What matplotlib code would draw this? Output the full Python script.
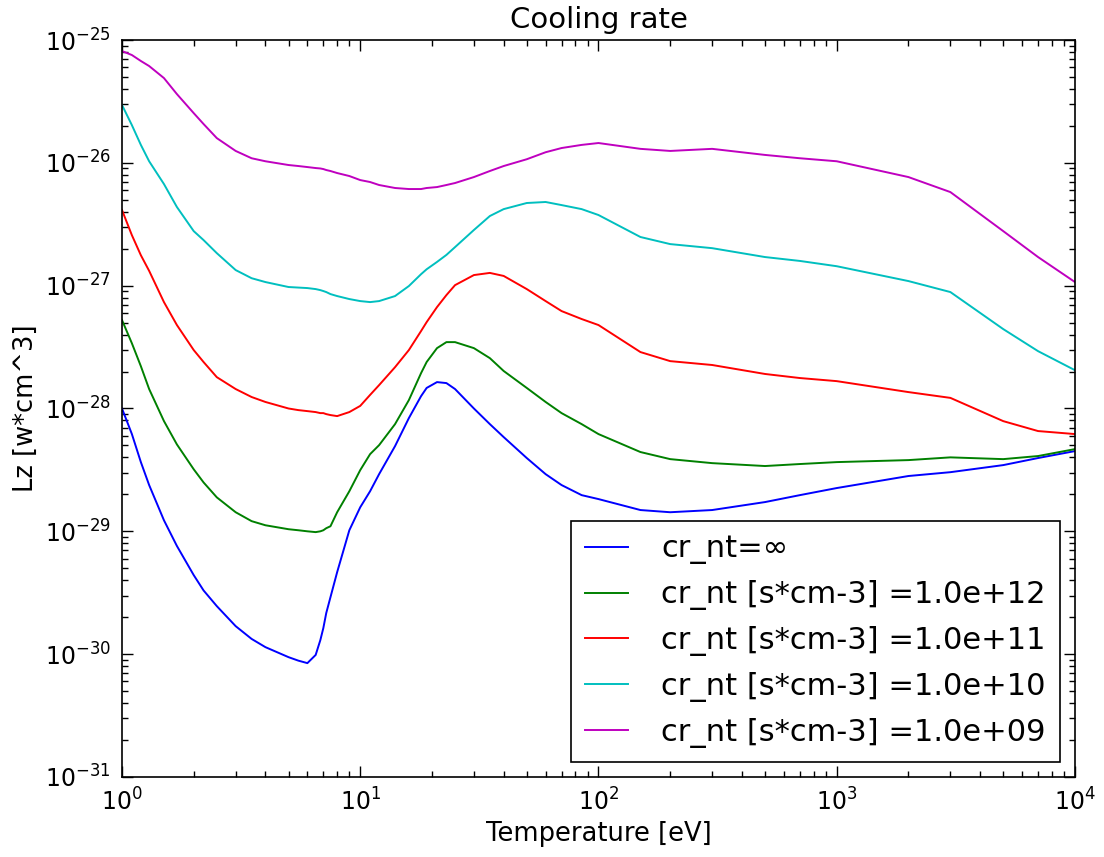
import matplotlib
matplotlib.use("Agg")
import matplotlib.pyplot as plt

plt.rcParams['font.family'] = ['DejaVu Sans']
plt.rcParams['mathtext.fontset'] = 'dejavusans'
plt.rcParams['axes.unicode_minus'] = False

# Electron temperature grid [eV]
temperature = [1, 1.1, 1.2, 1.3, 1.5, 1.7, 2, 2.2, 2.5, 3, 3.5, 4, 5, 5.5, 6, 6.5, 6.8, 7,
               7.2, 7.5, 8, 9, 10, 11, 12, 14, 16, 18, 19, 21, 23, 25, 30, 35, 40, 50, 60,
               70, 85, 100, 150, 200, 300, 500, 700, 1000, 2000, 3000, 5000, 7000, 10000]

# Radiated power coefficient Lz [W cm^3] for each residence parameter
lz_inf = [1.0e-28, 6.2e-29, 3.66e-29, 2.38e-29, 1.23e-29, 7.6e-30, 4.4e-30, 3.3e-30,
          2.46e-30, 1.69e-30, 1.33e-30, 1.14e-30, 9.45e-31, 8.85e-31, 8.45e-31, 9.85e-31,
          1.3e-30, 1.63e-30, 2.16e-30, 2.91e-30, 4.65e-30, 1.02e-29, 1.57e-29, 2.12e-29,
          2.92e-29, 4.94e-29, 8.35e-29, 1.26e-28, 1.47e-28, 1.64e-28, 1.61e-28, 1.44e-28,
          1.0e-28, 7.46e-29, 5.85e-29, 3.95e-29, 2.92e-29, 2.38e-29, 1.97e-29, 1.83e-29,
          1.49e-29, 1.43e-29, 1.49e-29, 1.73e-29, 1.97e-29, 2.25e-29, 2.82e-29, 3.03e-29,
          3.46e-29, 3.95e-29, 4.5e-29]

lz_1e12 = [5.25e-28, 3.4e-28, 2.21e-28, 1.44e-28, 7.9e-29, 5.1e-29, 3.2e-29, 2.5e-29,
           1.89e-29, 1.43e-29, 1.21e-29, 1.12e-29, 1.04e-29, 1.02e-29, 1.0e-29, 9.85e-30,
           1.0e-29, 1.02e-29, 1.06e-29, 1.1e-29, 1.43e-29, 2.12e-29, 3.15e-29, 4.25e-29,
           5.03e-29, 7.46e-29, 1.17e-28, 1.94e-28, 2.39e-28, 3.1e-28, 3.47e-28, 3.47e-28,
           3.1e-28, 2.57e-28, 2.02e-28, 1.47e-28, 1.13e-28, 9.17e-29, 7.46e-29, 6.19e-29,
           4.42e-29, 3.87e-29, 3.59e-29, 3.4e-29, 3.53e-29, 3.66e-29, 3.8e-29, 4.0e-29,
           3.87e-29, 4.1e-29, 4.67e-29]

lz_1e11 = [4.13e-27, 2.58e-27, 1.77e-27, 1.32e-27, 7.35e-28, 4.78e-28, 2.99e-28, 2.39e-28,
           1.8e-28, 1.44e-28, 1.24e-28, 1.13e-28, 1.0e-28, 9.7e-29, 9.52e-29, 9.35e-29,
           9.17e-29, 9.17e-29, 9.0e-29, 8.84e-29, 8.67e-29, 9.35e-29, 1.05e-28, 1.29e-28,
           1.55e-28, 2.17e-28, 2.99e-28, 4.27e-28, 5.05e-28, 6.69e-28, 8.38e-28, 1.01e-27,
           1.22e-27, 1.27e-27, 1.2e-27, 9.38e-28, 7.49e-28, 6.21e-28, 5.35e-28, 4.78e-28,
           2.88e-28, 2.43e-28, 2.26e-28, 1.91e-28, 1.77e-28, 1.67e-28, 1.36e-28, 1.22e-28,
           7.89e-29, 6.55e-29, 6.19e-29]

lz_1e10 = [2.96e-26, 2.03e-26, 1.4e-26, 1.03e-26, 6.72e-27, 4.37e-27, 2.78e-27, 2.35e-27,
           1.84e-27, 1.34e-27, 1.15e-27, 1.07e-27, 9.75e-28, 9.65e-28, 9.56e-28, 9.38e-28,
           9.2e-28, 9.04e-28, 8.87e-28, 8.54e-28, 8.23e-28, 7.78e-28, 7.49e-28, 7.35e-28,
           7.49e-28, 8.23e-28, 9.93e-28, 1.24e-27, 1.36e-27, 1.56e-27, 1.78e-27, 2.06e-27,
           2.84e-27, 3.69e-27, 4.2e-27, 4.71e-27, 4.8e-27, 4.53e-27, 4.2e-27, 3.76e-27,
           2.49e-27, 2.18e-27, 2.02e-27, 1.71e-27, 1.59e-27, 1.44e-27, 1.09e-27, 8.87e-28,
           4.43e-28, 2.93e-28, 2.05e-28]

lz_1e09 = [8.13e-26, 7.55e-26, 6.75e-26, 6.14e-26, 4.9e-26, 3.63e-26, 2.54e-26, 2.07e-26,
           1.59e-26, 1.25e-26, 1.09e-26, 1.03e-26, 9.6e-27, 9.42e-27, 9.24e-27, 9.07e-27,
           9.0e-27, 8.9e-27, 8.74e-27, 8.58e-27, 8.26e-27, 7.81e-27, 7.24e-27, 6.98e-27,
           6.6e-27, 6.24e-27, 6.12e-27, 6.12e-27, 6.24e-27, 6.35e-27, 6.6e-27, 6.85e-27,
           7.66e-27, 8.58e-27, 9.42e-27, 1.07e-26, 1.22e-26, 1.32e-26, 1.4e-26, 1.45e-26,
           1.3e-26, 1.25e-26, 1.3e-26, 1.16e-26, 1.09e-26, 1.03e-26, 7.66e-27, 5.78e-27,
           2.78e-27, 1.71e-27, 1.07e-27]

series = [lz_inf, lz_1e12, lz_1e11, lz_1e10, lz_1e09]
labels = ["cr_nt=\u221e",
          "cr_nt [s*cm-3] =1.0e+12",
          "cr_nt [s*cm-3] =1.0e+11",
          "cr_nt [s*cm-3] =1.0e+10",
          "cr_nt [s*cm-3] =1.0e+09"]
colors = ["#0000ff", "#008000", "#ff0000", "#00bfbf", "#bf00bf"]

fig = plt.figure(figsize=(11.04, 8.57), dpi=100, facecolor="white")
ax = fig.add_axes([0.1105, 0.0934, 0.8632, 0.8599])

for values, label, color in zip(series, labels, colors):
    ax.plot(temperature, values, color=color, lw=1.4, label=label,
            solid_joinstyle="round")

ax.set_xscale("log")
ax.set_yscale("log")
ax.set_xlim(1, 1e4)
ax.set_ylim(1e-31, 1e-25)

ax.tick_params(which="both", direction="in", top=True, right=True,
               labelsize=17, width=1, pad=8)
ax.tick_params(which="major", length=8)
ax.tick_params(which="minor", length=4)
for spine in ax.spines.values():
    spine.set_linewidth(1.2)

ax.set_title("Cooling rate", fontsize=21, pad=9)
ax.set_xlabel("Temperature [eV]", fontsize=18.5)
ax.set_ylabel("Lz [w*cm^3]", fontsize=18.5)

leg = ax.legend(loc="lower right", fontsize=22, fancybox=False, framealpha=1,
                edgecolor="black", handlelength=1.4, handletextpad=1.1,
                borderpad=0.45, borderaxespad=0.5, labelspacing=0.52)
leg.get_frame().set_linewidth(1.2)

fig.savefig("out.png", dpi=100, facecolor="white")
